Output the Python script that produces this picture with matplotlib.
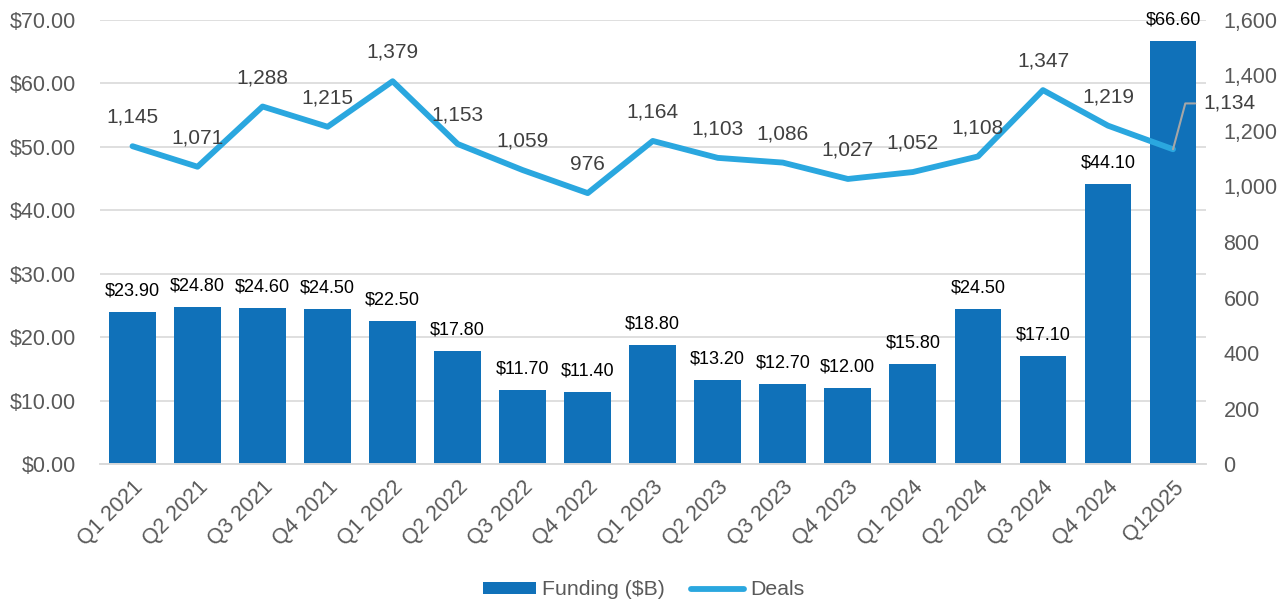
import matplotlib.pyplot as plt
import numpy as np

plt.rcParams['font.family'] = ['Liberation Sans', 'DejaVu Sans']

quarters = ['Q1 2021', 'Q2 2021', 'Q3 2021', 'Q4 2021', 'Q1 2022', 'Q2 2022',
            'Q3 2022', 'Q4 2022', 'Q1 2023', 'Q2 2023', 'Q3 2023', 'Q4 2023',
            'Q1 2024', 'Q2 2024', 'Q3 2024', 'Q4 2024', 'Q12025']
funding = [23.9, 24.8, 24.6, 24.5, 22.5, 17.8, 11.7, 11.4, 18.8, 13.2, 12.7,
           12.0, 15.8, 24.5, 17.1, 44.1, 66.6]
deals = [1145, 1071, 1288, 1215, 1379, 1153, 1059, 976, 1164, 1103, 1086,
         1027, 1052, 1108, 1347, 1219, 1134]

bar_color = '#1071B9'
line_color = '#2AA7DF'
tick_color = '#595959'
grid_color = '#D9D9D9'

fig = plt.figure(figsize=(12.87, 6.02), dpi=100)
ax = fig.add_axes([0.0777, 0.229, 0.859, 0.738])
ax2 = ax.twinx()

x = np.arange(len(quarters))
ax.bar(x, funding, width=0.72, color=bar_color, label='Funding ($B)', zorder=2)
ax.set_ylim(0, 70)
ax.set_yticks(np.arange(0, 71, 10))
ax.set_yticklabels(['${:.2f}'.format(v) for v in np.arange(0, 71, 10)])
ax.set_xlim(-0.5, len(quarters) - 0.5)
ax.set_xticks(x)
ax.set_xticklabels(quarters, rotation=45, ha='right', rotation_mode='anchor')
ax.grid(axis='y', color=grid_color, linewidth=1.2, zorder=0)
ax.set_axisbelow(True)

for xi, v in zip(x, funding):
    ax.annotate('${:.2f}'.format(v), (xi, v), xytext=(0, 9), textcoords='offset points',
                ha='center', va='bottom', fontsize=13, color='black')

ax2.plot(x, deals, color=line_color, linewidth=4.2, label='Deals', zorder=3,
         solid_capstyle='round', solid_joinstyle='round')
ax2.set_ylim(0, 1600)
ax2.set_yticks(np.arange(0, 1601, 200))
ax2.set_yticklabels(['{:,}'.format(v) for v in range(0, 1601, 200)])

for xi, v in zip(x[:-1], deals[:-1]):
    ax2.annotate('{:,}'.format(v), (xi, v), xytext=(0, 14), textcoords='offset points',
                 ha='center', va='bottom', fontsize=15, color='#404040')

# last label pushed out to the right with a leader line
lx, lv = x[-1], deals[-1]
ax2.annotate('{:,}'.format(lv), (lx, lv), xytext=(22, 33), textcoords='offset points',
             ha='left', va='center', fontsize=15, color='#404040',
             arrowprops=dict(arrowstyle='-', color='#A6A6A6', lw=1.5,
                             connectionstyle='angle,angleA=0,angleB=75,rad=0',
                             shrinkA=4, shrinkB=0))

for a in (ax, ax2):
    for s in ('top', 'left', 'right'):
        a.spines[s].set_visible(False)
    a.spines['bottom'].set_color(grid_color)
    a.spines['bottom'].set_linewidth(1.2)
    a.tick_params(length=0, labelsize=15.5, colors=tick_color)
ax.tick_params(axis='y', pad=17)
ax2.tick_params(axis='y', pad=13)
ax.tick_params(axis='x', pad=9)

h1, l1 = ax.get_legend_handles_labels()
h2, l2 = ax2.get_legend_handles_labels()
fig.legend(h1 + h2, l1 + l2, loc='center', bbox_to_anchor=(0.5, 0.02), ncol=2,
           frameon=False, fontsize=15.3, labelcolor=tick_color, handlelength=2.5,
           handleheight=0.5, handletextpad=0.3, columnspacing=1.2)

fig.savefig('out.png', dpi=100)
